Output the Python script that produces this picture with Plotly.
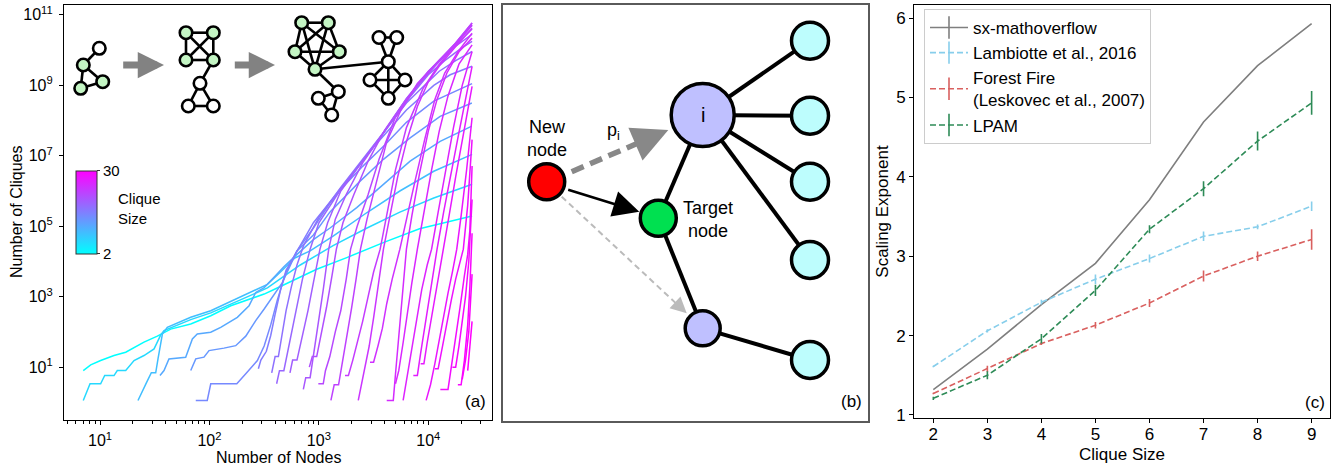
import math
import plotly.graph_objects as go

W, H = 1334, 467
FONT = "Liberation Sans, Arial, Helvetica, sans-serif"

# ---------------- Panel (a) data: log10(nodes), log10(cliques) per clique size ----------------
clique_sizes = list(range(2, 31))
curve_log_nodes = [
    [0.847,0.915,1.006,1.128,1.235,1.311,1.402,1.524,1.646,1.829,2.012,2.195,2.378,2.5,2.6,2.75,2.98,3.255,3.44,3.6,3.92,4.2,4.40],
    [0.847,0.909,1.006,1.043,1.128,1.158,1.235,1.311,1.402,1.494,1.555,1.585,1.829,2.012,2.195,2.378,2.53,2.666,2.83,3.13,3.44,3.74,4.05,4.40],
    [1.347,1.387,1.427,1.469,1.509,1.53,1.548,1.57,1.615,1.829,2.012,2.195,2.378,2.53,2.666,2.78,2.92,3.13,3.44,3.74,4.05,4.40],
    [1.548,1.585,1.63,1.783,1.844,1.889,2.012,2.103,2.255,2.362,2.423,2.5,2.59,2.68,2.8,2.95,3.102,3.346,3.59,3.834,4.108,4.398],
    [1.829,1.875,1.95,1.996,2.133,2.24,2.332,2.423,2.5,2.56,2.666,2.8,2.95,3.1,3.377,3.59,3.834,4.108,4.398],
    [1.875,1.98,2.012,2.25,2.332,2.438,2.5,2.56,2.62,2.7,2.8,2.95,3.1,3.2,3.4,3.6,3.8,4.05,4.40],
    [2.447,2.47,2.52,2.56,2.6,2.65,2.7,2.8,2.95,3.1,3.3,3.5,3.6,3.8,4.05,4.2,4.40],
    [2.569,2.6,2.63,2.66,2.7,2.75,2.8,2.86,3.0,3.2,3.4,3.6,3.8,3.95,4.1,4.25,4.40],
    [2.614,2.64,2.68,2.72,2.76,2.8,2.85,2.92,3.0,3.2,3.4,3.6,3.8,4.0,4.15,4.3,4.40],
    [2.736,2.76,2.80,2.85,2.9,2.95,3.01,3.08,3.2,3.4,3.6,3.8,4.0,4.2,4.40],
    [2.858,2.88,2.92,2.95,2.99,3.04,3.09,3.15,3.25,3.4,3.6,3.8,4.0,4.2,4.40],
    [2.913,2.94,2.98,3.02,3.07,3.12,3.16,3.22,3.32,3.45,3.6,3.8,4.0,4.2,4.40],
    [2.995,3.04,3.06,3.1,3.15,3.2,3.25,3.29,3.35,3.45,3.55,3.7,3.9,4.1,4.25,4.40],
    [3.11,3.14,3.18,3.22,3.26,3.3,3.34,3.38,3.44,3.52,3.62,3.75,3.9,4.1,4.25,4.40],
    [3.239,3.27,3.31,3.36,3.4,3.45,3.5,3.56,3.62,3.7,3.8,3.95,4.1,4.25,4.40],
    [3.36,3.39,3.42,3.46,3.5,3.54,3.59,3.65,3.72,3.8,3.9,4.0,4.1,4.25,4.40],
    [3.467,3.5,3.54,3.58,3.62,3.67,3.74,3.8,3.88,3.97,4.06,4.15,4.27,4.40],
    [3.62,3.68,3.7,3.73,3.76,3.80,3.85,3.92,4.0,4.08,4.17,4.28,4.40],
    [3.70,3.73,3.77,3.81,3.85,3.90,3.96,4.03,4.1,4.18,4.28,4.40],
    [3.77,3.80,3.84,3.89,3.94,3.99,4.03,4.09,4.16,4.23,4.31,4.40],
    [3.863,3.9,3.93,3.97,4.01,4.05,4.08,4.14,4.2,4.27,4.34,4.40],
    [3.93,3.96,3.99,4.03,4.07,4.11,4.14,4.19,4.25,4.32,4.40],
    [3.98,4.02,4.06,4.1,4.14,4.18,4.22,4.26,4.3,4.35,4.40],
    [4.06,4.09,4.13,4.17,4.21,4.25,4.29,4.32,4.36,4.40],
    [4.11,4.18,4.21,4.25,4.29,4.33,4.36,4.38,4.40],
    [4.22,4.25,4.28,4.31,4.34,4.37,4.40],
    [4.27,4.3,4.33,4.36,4.38,4.40],
    [4.31,4.34,4.37,4.39,4.40],
    [4.36,4.38,4.40],
]
curve_log_cliques = [
    [0.904,1.065,1.187,1.33,1.425,1.566,1.71,1.88,2.08,2.226,2.46,2.744,2.953,3.075,3.22,3.45,3.78,4.11,4.35,4.55,4.93,5.15,5.29],
    [0.055,0.527,0.527,0.762,0.762,0.904,0.904,1.187,1.33,1.518,1.915,2.04,2.35,2.54,2.79,3.03,3.25,3.55,3.9,4.45,4.95,5.4,5.8,6.19],
    [0.055,0.338,0.575,0.84,0.84,1.235,1.61,1.94,2.13,2.415,2.6,2.86,3.12,3.35,3.75,4.1,4.3,4.72,5.39,6.0,6.56,7.04],
    [0.762,0.904,1.235,1.283,1.8,1.94,1.99,2.13,2.415,2.745,3.12,3.26,3.55,3.85,4.2,4.62,4.95,5.53,6.19,6.85,7.41,7.84],
    [0.904,1.235,1.283,1.47,1.54,1.61,1.88,2.32,2.65,2.93,3.4,4.3,4.75,5.4,6.28,6.9,7.51,8.12,8.5],
    [0.055,0.055,0.527,0.527,0.81,1.187,1.6,2.2,2.9,3.7,4.3,4.95,5.65,6.05,6.7,7.3,7.95,8.55,9.05],
    [0.953,1.2,1.45,1.9,2.5,3.2,3.75,4.3,5.1,5.68,6.48,7.25,7.6,8.3,9.0,9.3,9.54],
    [0.84,1.3,1.3,1.9,2.6,3.3,3.9,4.45,5.25,6.1,6.9,7.7,8.5,8.95,9.4,9.7,9.96],
    [0.528,0.9,0.9,1.5,2.1,2.8,3.5,4.35,5.1,6.05,6.85,7.68,8.55,9.3,9.7,10.05,10.25],
    [0.84,1.2,1.2,1.9,2.6,3.4,4.35,5.1,6.0,6.85,7.7,8.6,9.35,10.0,10.45],
    [0.368,0.7,0.7,1.3,2.1,3.2,4.35,5.2,5.9,6.8,7.7,8.62,9.38,10.0,10.6],
    [1.0,1.3,1.3,1.9,2.7,3.6,4.35,5.1,5.9,6.85,7.72,8.62,9.4,10.0,10.7],
    [0.528,0.528,0.9,1.3,2.0,2.6,3.5,4.35,5.0,5.9,6.9,8.1,9.0,9.7,10.2,10.77],
    [0.057,0.5,0.5,1.2,1.9,2.7,3.5,4.35,5.2,6.2,7.4,8.3,9.05,9.72,10.2,10.77],
    [0.764,0.764,1.2,1.8,2.3,3.0,3.7,4.35,5.3,6.6,7.8,8.9,9.6,10.15,10.72],
    [0.057,0.5,1.0,1.6,2.4,3.3,4.35,5.3,6.4,7.4,8.4,9.1,9.55,10.1,10.62],
    [1.14,1.14,1.6,2.1,2.8,3.5,4.35,5.2,6.3,7.5,8.6,9.35,9.95,10.48],
    [0.057,0.057,0.8,1.9,3.1,4.35,5.3,6.5,7.7,8.6,9.35,9.95,10.34],
    [0.528,0.9,1.7,2.6,3.4,4.35,5.4,6.6,7.7,8.7,9.6,10.15],
    [0.057,0.6,1.3,2.2,3.2,3.9,4.35,5.4,6.6,7.8,9.0,9.96],
    [0.764,0.764,1.4,2.2,3.0,3.8,4.35,5.4,6.4,7.5,8.6,9.54],
    [1.1,1.1,1.7,2.4,3.1,3.8,4.35,5.3,6.4,7.6,8.97],
    [0.057,0.5,1.1,1.8,2.5,3.1,3.7,4.35,5.3,6.6,8.08],
    [0.953,0.953,1.6,2.3,2.9,3.5,4.0,4.35,5.6,7.46],
    [0.368,0.368,1.0,1.8,2.7,3.6,4.2,4.9,6.71],
    [1.0,1.0,1.6,2.3,3.0,4.0,5.76],
    [0.5,0.5,1.2,2.2,3.3,4.8],
    [0.65,1.2,2.0,2.9,3.64],
    [0.9,1.5,2.3],
]
a_xtick_vals = [10, 100, 1000, 10000]
a_xtick_text = ["10<sup>1</sup>", "10<sup>2</sup>", "10<sup>3</sup>", "10<sup>4</sup>"]
a_ytick_vals = [1e1, 1e3, 1e5, 1e7, 1e9, 1e11]
a_ytick_text = ["10<sup>1</sup>", "10<sup>3</sup>", "10<sup>5</sup>", "10<sup>7</sup>", "10<sup>9</sup>", "10<sup>11</sup>"]
a_xminor_vals = [5, 6, 7, 8, 9, 20, 30, 40, 50, 60, 70, 80, 90, 200, 300, 400, 500, 600, 700, 800, 900,
                 2000, 3000, 4000, 5000, 6000, 7000, 8000, 9000, 20000, 30000]

# ---------------- Panel (a) inset graphs (pixel layout inside panel a) ----------------
inset_node_x = [99.3, 83.3, 80.7, 102.7,
                186, 213.3, 186, 213.3, 200, 188.3, 213.3,
                301.7, 328.3, 295, 339.3, 315, 318.3, 338.3, 331.7,
                379, 396.7, 388.3, 370, 405, 388.3]
inset_node_y = [48.3, 65, 88.3, 81.7,
                32.7, 32.7, 60, 60, 83.3, 106, 106,
                22.7, 22.7, 51.7, 51.7, 69.3, 98.3, 91.7, 115,
                37.5, 37.5, 61.7, 80, 80, 98.3]
inset_node_green = [0, 1, 1, 1,
                    1, 1, 1, 1, 0, 0, 0,
                    1, 1, 1, 1, 1, 0, 0, 0,
                    0, 0, 0, 0, 0, 0]
inset_edges = [(0, 1), (1, 2), (1, 3), (2, 3),
               (4, 5), (4, 6), (4, 7), (5, 6), (5, 7), (6, 7), (7, 8), (8, 9), (8, 10), (9, 10),
               (11, 12), (11, 13), (11, 14), (11, 15), (12, 13), (12, 14), (12, 15), (13, 14), (13, 15), (14, 15),
               (15, 17), (16, 17), (16, 18), (17, 18), (15, 21),
               (19, 20), (19, 21), (20, 21), (21, 22), (21, 23), (21, 24), (22, 23), (22, 24), (23, 24)]
inset_arrows = [((121.7, 65), (164, 65)), ((233.3, 65), (275, 65))]

# ---------------- Panel (b) diagram (pixel layout inside panel b) ----------------
b_node_names = ["new", "i", "target", "lower", "c1", "c2", "c3", "c4", "c5"]
b_node_x = [546.7, 702.7, 658.3, 702.7, 810, 810, 810, 810, 810]
b_node_y = [181.7, 115.0, 218.3, 328.3, 40.7, 115.7, 181.7, 260, 360]
b_node_size = [36, 63, 36, 35, 37, 37, 37, 37, 37]
b_node_color = ["#ff0000", "#bfc0ff", "#00e050", "#bfc0ff", "#bdfdfd", "#bdfdfd", "#bdfdfd", "#bdfdfd", "#bdfdfd"]
b_edges = [("i", "c1"), ("i", "c2"), ("i", "c3"), ("i", "c4"), ("i", "target"), ("target", "lower"), ("lower", "c5")]

# ---------------- Panel (c) data ----------------
c_sizes = [2, 3, 4, 5, 6, 7, 8, 9]
mathoverflow = [1.32, 1.83, 2.39, 2.91, 3.71, 4.69, 5.40, 5.93]
lambiotte = [1.61, 2.06, 2.42, 2.71, 2.97, 3.25, 3.37, 3.63]
lambiotte_err = [0.01, 0.02, 0.03, 0.06, 0.05, 0.06, 0.03, 0.06]
forest = [1.27, 1.58, 1.90, 2.13, 2.41, 2.75, 3.00, 3.21]
forest_err = [0.01, 0.04, 0.02, 0.04, 0.05, 0.07, 0.06, 0.13]
lpam = [1.21, 1.50, 1.96, 2.57, 3.34, 3.85, 4.45, 4.93]
lpam_err = [0.02, 0.05, 0.06, 0.07, 0.05, 0.095, 0.12, 0.15]


def px(x):
    return x / W


def py(y):
    return 1 - y / H


fig = go.Figure()

# ---- panel (a) curves
for k, ln, lc in zip(clique_sizes, curve_log_nodes, curve_log_cliques):
    t = math.log(k / 2) / math.log(15)
    col = "rgb(%d,%d,255)" % (round(255 * t), round(255 * (1 - t)))
    fig.add_trace(go.Scatter(x=[10 ** v for v in ln], y=[10 ** v for v in lc], mode="lines",
                             line=dict(color=col, width=1.5), xaxis="x", yaxis="y",
                             showlegend=False, hoverinfo="skip"))

# colorbar holder
fig.add_trace(go.Scatter(
    x=[1], y=[1], mode="markers", xaxis="x", yaxis="y", showlegend=False, hoverinfo="skip",
    marker=dict(size=1, color=[2], cmin=2, cmax=30,
                colorscale=[[0, "#00ffff"], [1, "#ff00ff"]], showscale=True,
                colorbar=dict(x=px(76), xanchor="left", y=py(212), yanchor="middle",
                              len=83, lenmode="pixels", thickness=21, thicknessmode="pixels",
                              outlinewidth=1, outlinecolor="#333", tickvals=[2, 30], ticktext=["2", "30"],
                              ticks="outside", ticklen=3, tickcolor="#333", xpad=0, ypad=0,
                              tickfont=dict(size=15, family=FONT, color="black")))))

# ---- panel (a) insets
ex, ey = [], []
for a, b in inset_edges:
    ex += [inset_node_x[a], inset_node_x[b], None]
    ey += [inset_node_y[a], inset_node_y[b], None]
fig.add_trace(go.Scatter(x=ex, y=ey, mode="lines", line=dict(color="black", width=2.6),
                         xaxis="x3", yaxis="y3", showlegend=False, hoverinfo="skip"))
fig.add_trace(go.Scatter(x=inset_node_x, y=inset_node_y, mode="markers",
                         marker=dict(size=12.5, opacity=1,
                                     color=["#c4f5c4" if g else "white" for g in inset_node_green],
                                     line=dict(color="black", width=2.6)),
                         xaxis="x3", yaxis="y3", showlegend=False, hoverinfo="skip"))

# ---- panel (b)
idx = {n: i for i, n in enumerate(b_node_names)}
bx, by = [], []
for a, b in b_edges:
    bx += [b_node_x[idx[a]], b_node_x[idx[b]], None]
    by += [b_node_y[idx[a]], b_node_y[idx[b]], None]
fig.add_trace(go.Scatter(x=bx, y=by, mode="lines", line=dict(color="black", width=4),
                         xaxis="x2", yaxis="y2", showlegend=False, hoverinfo="skip"))


def shaft(p0, p1, back):
    dx, dy = p1[0] - p0[0], p1[1] - p0[1]
    L = math.hypot(dx, dy)
    return (p1[0] - dx / L * back, p1[1] - dy / L * back)


gray_arrow = ((571.7, 171.7), (668.3, 130.0))
light_arrow = ((561.7, 196.7), (686.7, 313.3))
solid_arrow = ((566.7, 189.3), (639.3, 211.7))
g_end = shaft(*gray_arrow, 14)
l_end = shaft(*light_arrow, 8)
fig.add_trace(go.Scatter(x=[gray_arrow[0][0], g_end[0]], y=[gray_arrow[0][1], g_end[1]], mode="lines",
                         line=dict(color="#888888", width=5.5, dash="13px,7px"),
                         xaxis="x2", yaxis="y2", showlegend=False, hoverinfo="skip"))
fig.add_trace(go.Scatter(x=[light_arrow[0][0], l_end[0]], y=[light_arrow[0][1], l_end[1]], mode="lines",
                         line=dict(color="#bbbbbb", width=2, dash="6px,4px"),
                         xaxis="x2", yaxis="y2", showlegend=False, hoverinfo="skip"))

fig.add_trace(go.Scatter(x=b_node_x, y=b_node_y, mode="markers",
                         marker=dict(size=b_node_size, color=b_node_color, opacity=1,
                                     line=dict(color="black", width=3.5)),
                         xaxis="x2", yaxis="y2", showlegend=False, hoverinfo="skip"))

# ---- panel (c)
c_series = [
    ("sx-mathoverflow", mathoverflow, None, "#7f7f7f", "solid"),
    ("Lambiotte et al., 2016", lambiotte, lambiotte_err, "#87ceeb", "6px,3px"),
    ("Forest Fire<br>(Leskovec et al., 2007)", forest, forest_err, "#d9605f", "6px,3px"),
    ("LPAM", lpam, lpam_err, "#2e8b57", "6px,3px"),
]
for name, vals, err, col, dash in c_series:
    kw = {}
    if err is not None:
        kw["error_y"] = dict(type="data", array=err, visible=True, color=col, thickness=1.6, width=0)
    fig.add_trace(go.Scatter(x=c_sizes, y=vals, mode="lines", line=dict(color=col, width=1.6, dash=dash),
                             xaxis="x4", yaxis="y4", showlegend=False, hoverinfo="skip", **kw))
for name, vals, err, col, dash in c_series:
    fig.add_trace(go.Scatter(x=[None], y=[None], mode="lines+markers", name=name,
                             line=dict(color=col, width=1.6, dash=dash),
                             marker=dict(symbol="line-ns-open", size=16, color=col, line=dict(color=col, width=1.6)),
                             xaxis="x4", yaxis="y4"))

annotations = []
for (p0, p1) in inset_arrows:
    annotations.append(dict(x=p1[0], y=p1[1], ax=p0[0], ay=p0[1], xref="x3", yref="y3", axref="x3", ayref="y3",
                            text="", showarrow=True, arrowhead=2, arrowsize=0.75, arrowwidth=7, arrowcolor="#828282"))
annotations.append(dict(x=solid_arrow[1][0], y=solid_arrow[1][1], ax=solid_arrow[0][0], ay=solid_arrow[0][1],
                        xref="x2", yref="y2", axref="x2", ayref="y2", text="", showarrow=True,
                        arrowhead=2, arrowsize=2.1, arrowwidth=2.5, arrowcolor="black"))
ga = shaft(*gray_arrow, 16)
annotations.append(dict(x=gray_arrow[1][0], y=gray_arrow[1][1], ax=ga[0], ay=ga[1],
                        xref="x2", yref="y2", axref="x2", ayref="y2", text="", showarrow=True,
                        arrowhead=2, arrowsize=1.3, arrowwidth=5.5, arrowcolor="#888888"))
la = shaft(*light_arrow, 10)
annotations.append(dict(x=light_arrow[1][0], y=light_arrow[1][1], ax=la[0], ay=la[1],
                        xref="x2", yref="y2", axref="x2", ayref="y2", text="", showarrow=True,
                        arrowhead=2, arrowsize=1.6, arrowwidth=2, arrowcolor="#bbbbbb"))


def txt(x, y, s, size, xref="paper", yref="paper", **kw):
    d = dict(x=x, y=y, text=s, xref=xref, yref=yref, showarrow=False, xanchor="center", yanchor="middle",
             font=dict(size=size, family=FONT, color="black"))
    d.update(kw)
    annotations.append(d)


txt(px(475), py(401.7), "(a)", 17)
txt(px(278), py(457), "Number of Nodes", 16)
txt(px(16), py(212), "Number of Cliques", 16, textangle=-90)
txt(px(116), py(208), "Clique<br>Size", 15, xanchor="left", align="left")
txt(546.7, 139, "New<br>node", 18, xref="x2", yref="y2")
txt(613.3, 131, "p<sub>i</sub>", 18, xref="x2", yref="y2")
txt(702.7, 115, "i", 20, xref="x2", yref="y2")
txt(708.3, 220, "Target<br>node", 18, xref="x2", yref="y2")
txt(851.7, 401.7, "(b)", 17, xref="x2", yref="y2")
txt(px(1315), py(402.3), "(c)", 17)
txt(px(883), py(211.7), "Scaling Exponent", 17, textangle=-90)
txt(px(1122.3), py(454), "Clique Size", 17)

axis_common = dict(showline=True, linecolor="black", linewidth=1.2, mirror=True, ticks="outside",
                   ticklen=4, tickwidth=1.2, tickcolor="black", showgrid=False, zeroline=False,
                   automargin=False)

fig.update_layout(
    template="none", autosize=False,
    width=W, height=H, margin=dict(l=0, r=0, t=0, b=0, pad=0),
    paper_bgcolor="white", plot_bgcolor="rgba(0,0,0,0)",
    font=dict(family=FONT, color="black"),
    xaxis=dict(domain=[px(64), px(492)], type="log", range=[0.671, 4.582], anchor="y",
               tickvals=a_xtick_vals, ticktext=a_xtick_text, tickfont=dict(size=16), ticklabelstandoff=2,
               minor=dict(tickvals=a_xminor_vals, ticks="outside", ticklen=2.5, tickwidth=1, tickcolor="black",
                          showgrid=False), **axis_common),
    yaxis=dict(domain=[py(420), py(5)], type="log", range=[-0.5, 11.28], anchor="x",
               tickvals=a_ytick_vals, ticktext=a_ytick_text, tickfont=dict(size=16),
               ticklabelstandoff=3, **axis_common),
    xaxis2=dict(domain=[px(503.3), px(868.3)], range=[503.3, 868.3], anchor="y2", showline=True, mirror=True,
                linecolor="#5a5a5a", linewidth=1.5, showticklabels=False, ticks="", showgrid=False,
                zeroline=False, automargin=False),
    yaxis2=dict(domain=[py(420.7), py(5.3)], range=[420.7, 5.3], anchor="x2", showline=True, mirror=True,
                linecolor="#5a5a5a", linewidth=1.5, showticklabels=False, ticks="", showgrid=False,
                zeroline=False, automargin=False),
    xaxis3=dict(domain=[px(64), px(492)], range=[64, 492], anchor="y3", visible=False, automargin=False),
    yaxis3=dict(domain=[py(420), py(5)], range=[420, 5], anchor="x3", visible=False, automargin=False),
    xaxis4=dict(domain=[px(914.3), px(1330)], range=[1.648, 9.34], anchor="y4",
                tickvals=c_sizes, tickfont=dict(size=17), ticklabelstandoff=-4, **axis_common),
    yaxis4=dict(domain=[py(418.3), py(5.3)], range=[0.958, 6.16], anchor="x4",
                tickvals=[1, 2, 3, 4, 5, 6], tickfont=dict(size=17), **axis_common),
    legend=dict(x=px(924), y=py(9), xanchor="left", yanchor="top", bgcolor="white",
                bordercolor="#cccccc", borderwidth=1, font=dict(size=17, family=FONT, color="black"),
                tracegroupgap=0, itemwidth=38),
    annotations=annotations,
)

fig.write_html("out.html", config={"displayModeBar": False, "responsive": False},
               post_script="document.body.style.margin='0px';")
